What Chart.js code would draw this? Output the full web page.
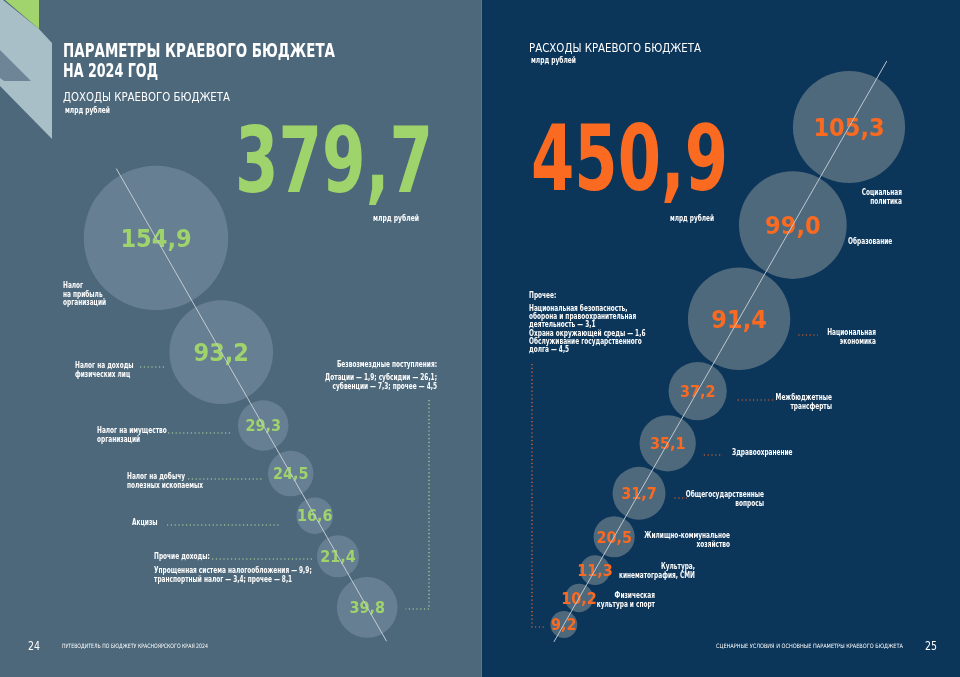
<!DOCTYPE html>
<html lang="ru">
<head>
<meta charset="utf-8">
<title>Параметры краевого бюджета на 2024 год</title>
<script src="https://cdn.jsdelivr.net/npm/chart.js@4.4.1/dist/chart.umd.min.js"></script>
<style>
	html, body { margin: 0; padding: 0; background: #0b3559; }
	#page { display: block; }
</style>
</head>
<body>
<canvas id="page" width="960" height="677"></canvas>
<script>
// --- data -------------------------------------------------------------
const incomeTotal = 379.7;
const expenseTotal = 450.9;

const incomeCategories = [
	['Налог', 'на прибыль', 'организаций'],
	['Налог на доходы', 'физических лиц'],
	['Налог на имущество', 'организаций'],
	['Налог на добычу', 'полезных ископаемых'],
	['Акцизы'],
	['Прочие доходы:'],
	['Безвозмездные поступления:']
];
const incomeValues = [154.9, 93.2, 29.3, 24.5, 16.6, 21.4, 39.8];
const incomeOtherNote = ['Упрощенная система налогообложения — 9,9;', 'транспортный налог — 3,4; прочее — 8,1'];
const incomeGrantsNote = ['Дотации — 1,9; субсидии — 26,1;', 'субвенции — 7,3; прочее — 4,5'];

const expenseCategories = [
	['Социальная', 'политика'],
	['Образование'],
	['Национальная', 'экономика'],
	['Межбюджетные', 'трансферты'],
	['Здравоохранение'],
	['Общегосударственные', 'вопросы'],
	['Жилищно-коммунальное', 'хозяйство'],
	['Культура,', 'кинематография, СМИ'],
	['Физическая', 'культура и спорт'],
	['Прочее:']
];
const expenseValues = [105.3, 99.0, 91.4, 37.2, 35.1, 31.7, 20.5, 11.3, 10.2, 9.2];
const expenseOtherNote = [
	'Национальная безопасность,',
	'оборона и правоохранительная',
	'деятельность — 3,1',
	'Охрана окружающей среды — 1,6',
	'Обслуживание государственного',
	'долга — 4,5'
];

// --- layout / styles ---------------------------------------------------
const W = 960, H = 677;
const NARROW = "'Liberation Sans Narrow', 'DejaVu Sans Condensed', 'Roboto Condensed', Roboto, sans-serif";
const GREEN = '#9fd36b';
const ORANGE = '#fa6a21';
const LEFT_BG = '#4d687b';
const RIGHT_BG = '#0b3559';

// bubbles run along a slanted axis; each one sits after the previous one
const incomeAxis = {start: {x: 156, y: 238}, dir: {x: 211, y: 369}, gap: 7.4, before: 80, after: 39};
const expenseAxis = {start: {x: 849, y: 127}, dir: {x: -286, y: 499}, gap: 3, before: 76, after: 20};

const incomeLabelPos = [
	{x: 63, y: 288, align: 'left'},
	{x: 75, y: 368, align: 'left', leader: {y: 367, from: 140, gap: 3}},
	{x: 97, y: 433, align: 'left', leader: {y: 433, from: 168, gap: 7}},
	{x: 127, y: 479, align: 'left', leader: {y: 479, from: 188, gap: 5}},
	{x: 132, y: 525, align: 'left', leader: {y: 525, from: 167, gap: 18}},
	{x: 154, y: 559, align: 'left', leader: {y: 559, from: 212, gap: 4}},
	{x: 437, y: 367, align: 'right', bracket: {x: 429, top: 400, y: 609, gap: 8}}
];
const expenseLabelPos = [
	{x: 902, y: 195, align: 'right'},
	{x: 848, y: 244, align: 'left'},
	{x: 876, y: 335, align: 'right', leader: {y: 335, to: 818, gap: 8}},
	{x: 832, y: 400, align: 'right', leader: {y: 400, to: 776, gap: 11}},
	{x: 732, y: 455, align: 'left', leader: {y: 455, to: 723, gap: 8}},
	{x: 764, y: 497, align: 'right', leader: {y: 498, to: 687, gap: 9}},
	{x: 730, y: 538, align: 'right'},
	{x: 695, y: 569, align: 'right'},
	{x: 655, y: 598, align: 'right'},
	{x: 529, y: 298, align: 'left', bracket: {x: 532, top: 364, y: 627, gap: 6}}
];

function bubbleRadius(v) {
	return 4 + 2 * Math.pow(v, 0.7);
}

function fmt(v) {
	return v.toFixed(1).replace('.', ',');
}

function placeAlongAxis(values, axis) {
	var len = Math.hypot(axis.dir.x, axis.dir.y),
		ux = axis.dir.x / len,
		uy = axis.dir.y / len,
		cx = axis.start.x,
		cy = axis.start.y,
		pts = [];
	values.forEach((v, i) => {
		var r = bubbleRadius(v);
		if (i > 0) {
			var d = pts[i - 1].r + r + axis.gap;
			cx += ux * d;
			cy += uy * d;
		}
		pts.push({x: cx, y: cy, r: r, v: v});
	});
	return pts;
}

function axisLine(pts, axis) {
	var len = Math.hypot(axis.dir.x, axis.dir.y),
		ux = axis.dir.x / len,
		uy = axis.dir.y / len,
		first = pts[0],
		last = pts[pts.length - 1];
	return [
		{x: first.x - ux * axis.before, y: first.y - uy * axis.before},
		{x: last.x + ux * axis.after, y: last.y + uy * axis.after}
	];
}

const incomePoints = placeAlongAxis(incomeValues, incomeAxis);
const expensePoints = placeAlongAxis(expenseValues, expenseAxis);

// --- drawing helpers ---------------------------------------------------
function fitText(ctx, str, x, y, width, font, color, align) {
	ctx.save();
	ctx.font = font;
	ctx.fillStyle = color;
	ctx.textBaseline = 'alphabetic';
	ctx.textAlign = 'left';
	var w = ctx.measureText(str).width,
		k = width ? width / w : 1,
		left = align === 'right' ? x - w * k : (align === 'center' ? x - w * k / 2 : x);
	ctx.translate(left, y);
	ctx.scale(k, 1);
	ctx.fillText(str, 0, 0);
	ctx.restore();
}

// small captions: the original face is narrower than anything installed
const LABEL_FONT = 'bold 9px ' + NARROW;
const LABEL_SX = 0.72;
const LABEL_LH = 8.6;

function textLines(ctx, lines, x, y, lh, align, color) {
	ctx.save();
	ctx.font = LABEL_FONT;
	ctx.fillStyle = color;
	ctx.textAlign = align;
	ctx.textBaseline = 'alphabetic';
	ctx.translate(x, y);
	ctx.scale(LABEL_SX, 1);
	lines.forEach((s, i) => ctx.fillText(s, 0, i * lh));
	ctx.restore();
}

function dotted(ctx, pts, color) {
	ctx.save();
	ctx.strokeStyle = color;
	ctx.lineWidth = 1.2;
	ctx.setLineDash([1.2, 2.6]);
	ctx.beginPath();
	pts.forEach((p, i) => i ? ctx.lineTo(p[0], p[1]) : ctx.moveTo(p[0], p[1]));
	ctx.stroke();
	ctx.restore();
}

function poly(ctx, pts, color) {
	ctx.fillStyle = color;
	ctx.beginPath();
	pts.forEach((p, i) => i ? ctx.lineTo(p[0], p[1]) : ctx.moveTo(p[0], p[1]));
	ctx.closePath();
	ctx.fill();
}

// --- plugins -----------------------------------------------------------
const pageBackground = {
	id: 'pageBackground',
	beforeDraw(chart) {
		const ctx = chart.ctx;
		ctx.save();
		ctx.fillStyle = LEFT_BG;
		ctx.fillRect(0, 0, 481, H);
		ctx.fillStyle = RIGHT_BG;
		ctx.fillRect(481, 0, W - 481, H);
		ctx.fillStyle = '#5f7689';
		ctx.fillRect(481, 0, 1, H);
		// corner ornament
		poly(ctx, [[0, 0], [3, 0], [39, 29], [52, 43], [52, 139], [0, 86]], '#a8bfc7');
		poly(ctx, [[0, 50], [31, 81], [4, 81], [0, 78]], '#6d8597');
		poly(ctx, [[5, 0], [39, 0], [39, 29]], '#a2d46d');
		ctx.restore();
	}
};

const pageText = {
	id: 'pageText',
	afterDatasetDraw(chart, args) {
		// values inside bubbles, under the guide lines
		const meta = chart.getDatasetMeta(args.index);
		if (meta.type !== 'bubble') return;
		const ctx = chart.ctx,
			color = args.index === 2 ? GREEN : ORANGE;
		meta.data.forEach((el, i) => {
			const v = chart.data.datasets[args.index].data[i].v,
				big = el.options.radius > 40,
				size = big ? 25 : 16;
			fitText(ctx, fmt(v), el.x, el.y + size * 0.36, null, 'bold ' + size + 'px ' + NARROW, color, 'center');
		});
	},
	afterDraw(chart) {
		const ctx = chart.ctx,
			xs = chart.scales.x,
			ys = chart.scales.y,
			px = p => ({x: xs.getPixelForValue(p.x), y: ys.getPixelForValue(p.y), r: p.r});

		// headings
		fitText(ctx, 'ПАРАМЕТРЫ КРАЕВОГО БЮДЖЕТА', 63, 57, 272, 'bold 19px ' + NARROW, '#ffffff', 'left');
		fitText(ctx, 'НА 2024 ГОД', 63, 77, 95, 'bold 19px ' + NARROW, '#ffffff', 'left');
		fitText(ctx, 'ДОХОДЫ КРАЕВОГО БЮДЖЕТА', 63, 101, 167, '13px ' + NARROW, '#ffffff', 'left');
		fitText(ctx, 'млрд рублей', 65, 113, 45, 'bold 8px ' + NARROW, '#ffffff', 'left');
		fitText(ctx, fmt(incomeTotal), 235, 192, 198, 'bold 90px ' + NARROW, GREEN, 'left');
		fitText(ctx, 'млрд рублей', 373, 221, 46, 'bold 8px ' + NARROW, '#ffffff', 'left');

		fitText(ctx, 'РАСХОДЫ КРАЕВОГО БЮДЖЕТА', 529, 52, 172, '13px ' + NARROW, '#ffffff', 'left');
		fitText(ctx, 'млрд рублей', 531, 63, 45, 'bold 8px ' + NARROW, '#ffffff', 'left');
		fitText(ctx, fmt(expenseTotal), 531, 190, 197, 'bold 91px ' + NARROW, ORANGE, 'left');
		fitText(ctx, 'млрд рублей', 670, 221, 44, 'bold 8px ' + NARROW, '#ffffff', 'left');

		// income labels
		incomeCategories.forEach((lines, i) => {
			const pos = incomeLabelPos[i],
				b = px(incomePoints[i]);
			textLines(ctx, lines, pos.x, pos.y, LABEL_LH, pos.align, '#ffffff');
			if (pos.leader) {
				dotted(ctx, [[pos.leader.from, pos.leader.y], [b.x - b.r - pos.leader.gap, pos.leader.y]], '#b9d99a');
			}
			if (pos.bracket) {
				dotted(ctx, [[pos.bracket.x, pos.bracket.top], [pos.bracket.x, pos.bracket.y], [b.x + b.r + pos.bracket.gap, pos.bracket.y]], '#b9d99a');
			}
		});
		textLines(ctx, incomeOtherNote, 154, 573, LABEL_LH, 'left', '#ffffff');
		textLines(ctx, incomeGrantsNote, 437, 380, LABEL_LH, 'right', '#ffffff');

		// expense labels
		expenseCategories.forEach((lines, i) => {
			const pos = expenseLabelPos[i],
				b = px(expensePoints[i]);
			textLines(ctx, lines, pos.x, pos.y, LABEL_LH, pos.align, '#ffffff');
			if (pos.leader) {
				dotted(ctx, [[b.x + b.r + pos.leader.gap, pos.leader.y], [pos.leader.to, pos.leader.y]], ORANGE);
			}
			if (pos.bracket) {
				dotted(ctx, [[pos.bracket.x, pos.bracket.top], [pos.bracket.x, pos.bracket.y], [b.x - b.r - pos.bracket.gap, pos.bracket.y]], ORANGE);
			}
		});
		textLines(ctx, expenseOtherNote, 529, 311, 8.2, 'left', '#ffffff');

		// footers
		fitText(ctx, '24', 28, 650, 12, '12px ' + NARROW, '#ffffff', 'left');
		fitText(ctx, 'ПУТЕВОДИТЕЛЬ ПО БЮДЖЕТУ КРАСНОЯРСКОГО КРАЯ 2024', 62, 648, 146, '6px ' + NARROW, '#ffffff', 'left');
		fitText(ctx, 'СЦЕНАРНЫЕ УСЛОВИЯ И ОСНОВНЫЕ ПАРАМЕТРЫ КРАЕВОГО БЮДЖЕТА', 716, 648, 187, '6px ' + NARROW, '#ffffff', 'left');
		fitText(ctx, '25', 925, 650, 12, '12px ' + NARROW, '#ffffff', 'left');
	}
};

// --- chart -------------------------------------------------------------
const ctx = document.getElementById('page').getContext('2d');

const chart = new Chart(ctx, {
	type: 'bubble',
	data: {
		datasets: [
			{
				type: 'line',
				label: 'income axis',
				data: axisLine(incomePoints, incomeAxis),
				borderColor: '#c3ccd3',
				borderWidth: 1,
				pointRadius: 0,
				order: 0
			},
			{
				type: 'line',
				label: 'expense axis',
				data: axisLine(expensePoints, expenseAxis),
				borderColor: '#bfc8d0',
				borderWidth: 1,
				pointRadius: 0,
				order: 0
			},
			{
				label: 'Доходы',
				data: incomePoints,
				backgroundColor: '#677f92',
				borderWidth: 0,
				order: 1
			},
			{
				label: 'Расходы',
				data: expensePoints,
				backgroundColor: '#4e687c',
				borderWidth: 0,
				order: 1
			}
		]
	},
	options: {
		responsive: false,
		animation: false,
		layout: {padding: 0, autoPadding: false},
		scales: {
			x: {type: 'linear', min: 0, max: W, display: false},
			y: {type: 'linear', min: 0, max: H, reverse: true, display: false}
		},
		plugins: {
			legend: {display: false},
			tooltip: {enabled: false}
		},
		events: []
	},
	plugins: [pageBackground, pageText]
});
</script>
</body>
</html>
